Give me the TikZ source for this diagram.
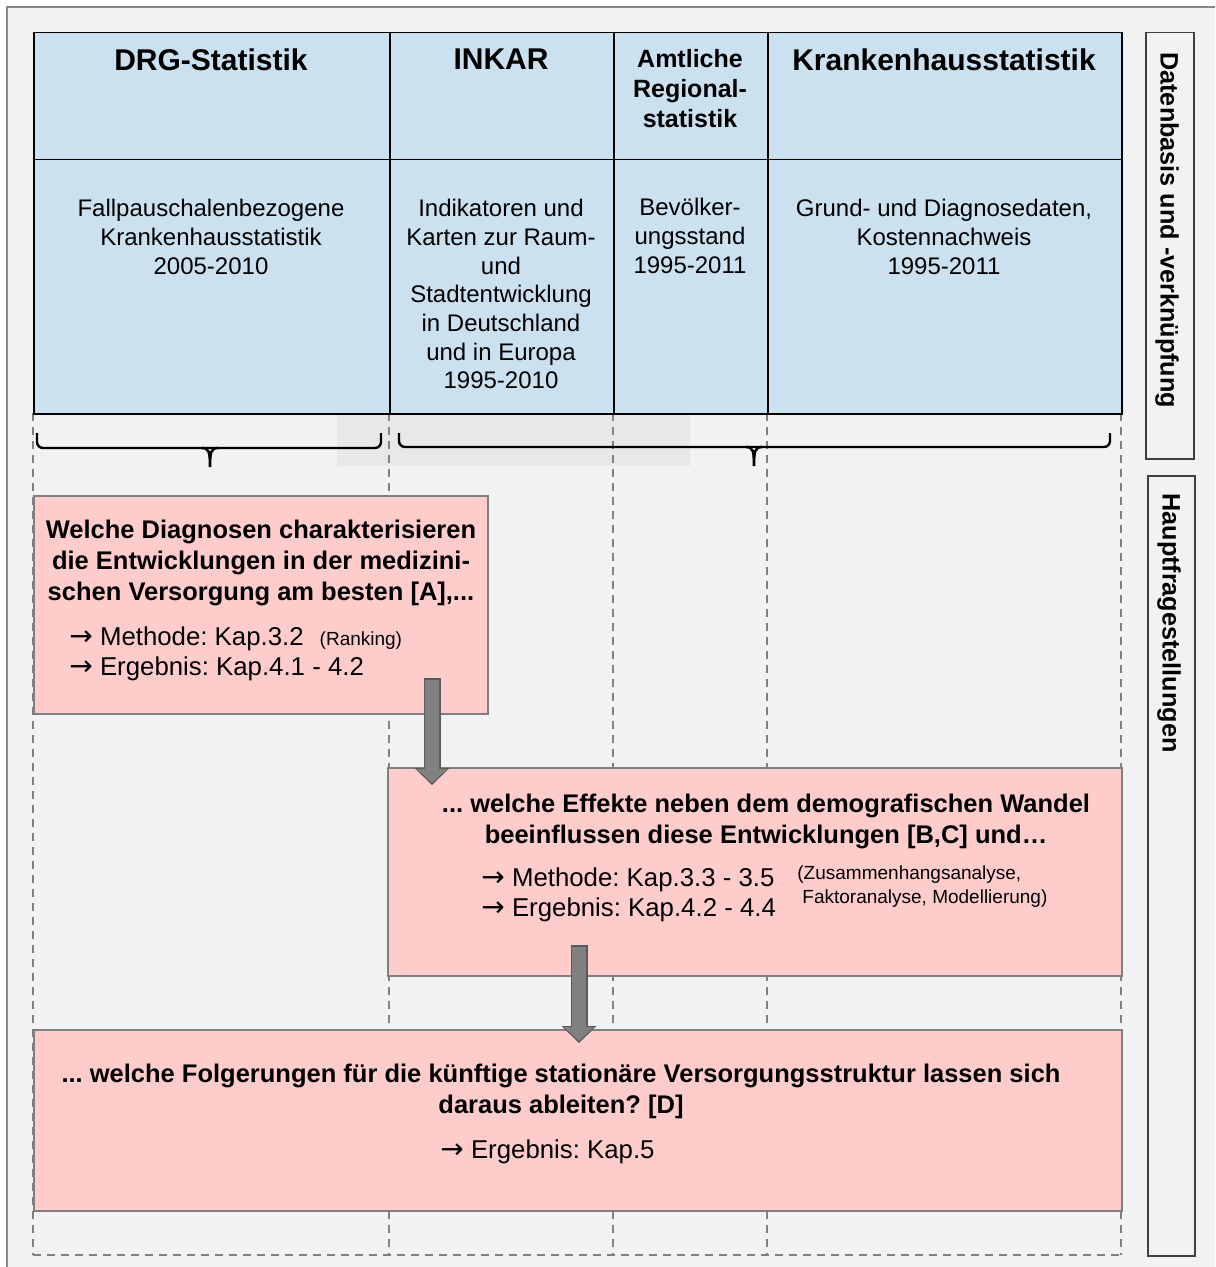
\documentclass[tikz,border=0pt]{standalone}
\usepackage{fontspec}
\setmainfont{Liberation Sans}
\newfontfamily\arrowfont{DejaVu Sans}
\newcommand\toarrow{{\arrowfont\fontsize{14}{15}\selectfont →}}
\frenchspacing
\usetikzlibrary{arrows.meta}

\definecolor{tablefill}{RGB}{204,225,240}
\definecolor{qfill}{RGB}{255,204,204}
\definecolor{qedge}{RGB}{127,127,127}
\definecolor{bgfill}{RGB}{242,242,242}
\definecolor{hazegray}{RGB}{232,232,232}
\definecolor{framegray}{RGB}{136,136,136}
\definecolor{guidegray}{RGB}{128,128,128}
\definecolor{arrowfill}{RGB}{128,128,128}
\definecolor{arrowedge}{RGB}{90,90,90}

\tikzset{
  cell/.style={draw=black, fill=tablefill, line width=0.75pt, anchor=north west, inner sep=0pt},
  colhead/.style={font=\fontsize{15}{18}\selectfont\bfseries, align=center, anchor=north, inner sep=0pt},
  colsub/.style={font=\fontsize{12.5}{15}\selectfont\bfseries, align=center, anchor=north, inner sep=0pt},
  coltext/.style={font=\fontsize{12}{14.35}\selectfont, align=center, anchor=north, inner sep=0pt},
  qbox/.style={draw=qedge, fill=qfill, line width=1pt, anchor=north west, inner sep=0pt},
  question/.style={font=\fontsize{12.75}{15.5}\selectfont\bfseries, align=center, anchor=north, inner sep=0pt},
  pointer/.style={font=\fontsize{12.9}{15}\selectfont, align=left, anchor=north west, inner sep=0pt},
  remark/.style={font=\fontsize{9.5}{12}\selectfont, align=left, anchor=north west, inner sep=0pt},
  sidebox/.style={draw=black!75, fill=bgfill, line width=0.75pt, anchor=north west, inner sep=0pt},
  sidelabel/.style={font=\fontsize{12.6}{15}\selectfont\bfseries, rotate=-90, anchor=west, inner sep=0pt},
  guide/.style={draw=guidegray, line width=0.75pt, dash pattern=on 4pt off 3pt},
  bracket/.style={draw=black, line width=1.2pt, rounded corners=3pt},
  bracetip/.style={draw=black, line width=1.3pt},
  blockarrow/.style={draw=arrowfill, line width=7pt, shorten <=1pt, shorten >=1pt,
    -{Triangle[width=15pt,length=7pt,line width=0pt]},
    preaction={draw=arrowedge, line width=8.5pt, shorten <=0pt, shorten >=0pt,
      -{Triangle[width=17.5pt,length=8.5pt,line width=0pt]}}}
}

\begin{document}
\begin{tikzpicture}[x=0.5pt,y=-0.5pt]
  \useasboundingbox (0,0) rectangle (1215,1267);
  \clip (0,0) rectangle (1215,1267);
  \fill[white] (0,0) rectangle (1215,1267);
  \filldraw[fill=bgfill, draw=framegray, line width=1pt] (7,7) rectangle (1230,1280);
  \fill[hazegray] (337,413) rectangle (690,466);

  % guide lines below the table
  \foreach \x in {33,389,613,767,1121}
    \draw[guide] (\x,413) -- (\x,1255);
  \draw[guide] (33,1255) -- (1121,1255);

  % table
  \node[cell, minimum width=178pt, minimum height=63.5pt] (drgh) at (33,32) {};
  \node[cell, minimum width=112pt, minimum height=63.5pt] (inkarh) at (389,32) {};
  \node[cell, minimum width=77pt, minimum height=63.5pt] (amth) at (613,32) {};
  \node[cell, minimum width=177pt, minimum height=63.5pt] (khh) at (767,32) {};
  \node[cell, minimum width=178pt, minimum height=127pt] (drgd) at (33,159) {};
  \node[cell, minimum width=112pt, minimum height=127pt] (inkard) at (389,159) {};
  \node[cell, minimum width=77pt, minimum height=127pt] (amtd) at (613,159) {};
  \node[cell, minimum width=177pt, minimum height=127pt] (khd) at (767,159) {};

  \node[colhead] (tdrg) at (211,48) {DRG-Statistik};
  \node[colhead] (tinkar) at (501,48) {INKAR};
  \node[colsub] (tamt) at (690,49) {Amtliche\\Regional-\\statistik};
  \node[colhead] (tkh) at (944,48) {Krankenhausstatistik};

  \node[coltext] (xdrg) at (211,199) {Fallpauschalenbezogene\\Krankenhausstatistik\\2005-2010};
  \node[coltext] (xinkar) at (501,199) {Indikatoren und\\Karten zur Raum-\\und\\Stadtentwicklung\\in Deutschland\\und in Europa\\1995-2010};
  \node[coltext] (xamt) at (690,198) {Bevölker-\\ungsstand\\1995-2011};
  \node[coltext] (xkh) at (944,199) {Grund- und Diagnosedaten,\\Kostennachweis\\1995-2011};

  % braces
  \draw[bracket] (37,433) |- (381,448) -- (381,433);
  \draw[bracetip] (202,448) .. controls (209,448) and (210,452) .. (210,467)
    .. controls (210,452) and (211,448) .. (218,448);
  \draw[bracket] (399,433) |- (1110,447) -- (1110,433);
  \draw[bracetip] (746,447) .. controls (753,447) and (754,451) .. (754,466)
    .. controls (754,451) and (755,447) .. (762,447);

  % side labels
  \node[sidebox, minimum width=24pt, minimum height=213pt] (sdata) at (1145,32) {};
  \node[sidebox, minimum width=23.5pt, minimum height=390pt] (smain) at (1147,475) {};
  \node[sidelabel] (ldata) at (1167,52) {Datenbasis und -verknüpfung};
  \node[sidelabel] (lmain) at (1169,493) {Hauptfragestellungen};

  % question boxes
  \node[qbox, minimum width=227pt, minimum height=109pt] (q1) at (33,495) {};
  \node[qbox, minimum width=367pt, minimum height=104pt] (q2) at (387,767) {};
  \node[qbox, minimum width=544pt, minimum height=90.5pt] (q3) at (33,1029) {};

  \node[question] (q1text) at (261,520) {Welche Diagnosen charakterisieren\\die Entwicklungen in der medizini-\\schen Versorgung am besten [A],...};
  \node[pointer] (q1refs) at (69,626) {\toarrow\ Methode: Kap.3.2\hspace{8pt}{\fontsize{9.5}{12}\selectfont(Ranking)}\\\toarrow\ Ergebnis: Kap.4.1 - 4.2};

  \node[question] (q2text) at (766,794) {... welche Effekte neben dem demografischen Wandel\\beeinflussen diese Entwicklungen [B,C] und…};
  \node[pointer] (q2refs) at (481,867) {\toarrow\ Methode: Kap.3.3 - 3.5\\\toarrow\ Ergebnis: Kap.4.2 - 4.4};
  \node[remark] (q2note) at (797,865) {(Zusammenhangsanalyse,\\\hspace*{2.5pt}Faktoranalyse, Modellierung)};

  \node[question] (q3text) at (561,1064) {... welche Folgerungen für die künftige stationäre Versorgungsstruktur lassen sich\\daraus ableiten? [D]};
  \node[pointer] (q3refs) at (440,1139) {\toarrow\ Ergebnis: Kap.5};

  % flow arrows
  \coordinate (a1s) at (432,678);
  \coordinate (a1t) at (432,785);
  \coordinate (a2s) at (579,945);
  \coordinate (a2t) at (579,1043);
  \draw[blockarrow] (a1s) -- (a1t);
  \draw[blockarrow] (a2s) -- (a2t);
\end{tikzpicture}
\end{document}
